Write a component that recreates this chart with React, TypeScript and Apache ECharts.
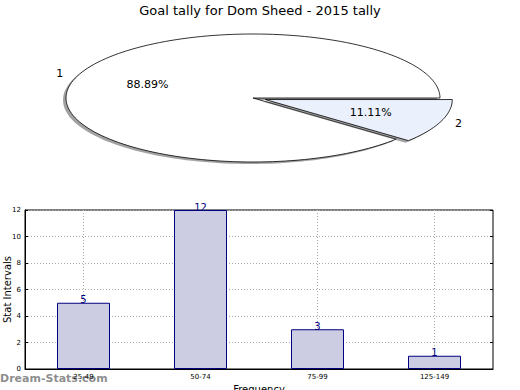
import React, { useEffect, useRef } from "react";
import * as echarts from "echarts";

const TITLE = "Goal tally for Dom Sheed - 2015 tally";
const SLICE_NAMES = ["1", "2"];
const SLICE_VALUES = [8, 1];
const SLICE_COLORS = ["#ffffff", "#eaf0fc"];
const SLICE_EXPLODE = [0, 0.07];

const CATEGORIES = ["25-49", "50-74", "75-99", "125-149"];
const BAR_VALUES = [5, 12, 3, 1];

const FONT = "DejaVu Sans";

export default function App() {
  const ref = useRef<HTMLDivElement>(null);
  useEffect(() => {
    if (!ref.current) return;
    const chart = echarts.init(ref.current, undefined, { renderer: "svg" });
    const total = SLICE_VALUES.reduce((a, b) => a + b, 0);
    const cx = 253, cy = 98, rx = 187, ry = 64;

    const renderSlice = (params: any, api: any) => {
      const i = params.dataIndex;
      const v = api.value(0);
      let before = 0;
      for (let k = 0; k < i; k++) before += SLICE_VALUES[k];
      const a0 = (before / total) * 360;
      const a1 = ((before + v) / total) * 360;
      const mid = ((a0 + a1) / 2) * Math.PI / 180;
      const ex = SLICE_EXPLODE[i];
      const ox = cx + ex * rx * Math.cos(mid);
      const oy = cy - ex * ry * Math.sin(mid);
      const pts: number[][] = [[ox, oy]];
      const steps = Math.max(8, Math.ceil((a1 - a0) / 2));
      for (let s = 0; s <= steps; s++) {
        const a = (a0 + ((a1 - a0) * s) / steps) * Math.PI / 180;
        pts.push([ox + rx * Math.cos(a), oy - ry * Math.sin(a)]);
      }
      const shadowPts = pts.map((p) => [p[0] - 3, p[1] + 2]);
      const pct = ((v / total) * 100).toFixed(2) + "%";
      return {
        type: "group",
        children: [
          {
            type: "polygon",
            shape: { points: shadowPts },
            style: { fill: "rgba(70,70,70,0.5)", stroke: "none" },
          },
          {
            type: "polygon",
            shape: { points: pts },
            style: { fill: SLICE_COLORS[i], stroke: "#000", lineWidth: 0.8 },
          },
          {
            type: "text",
            x: ox + 0.6 * rx * Math.cos(mid),
            y: oy - 0.6 * ry * Math.sin(mid),
            style: {
              text: pct,
              fill: "#000",
              font: `11px '${FONT}'`,
              align: "center",
              verticalAlign: "middle",
            },
          },
          {
            type: "text",
            x: ox + 1.1 * rx * Math.cos(mid),
            y: oy - 1.1 * ry * Math.sin(mid),
            style: {
              text: SLICE_NAMES[i],
              fill: "#000",
              font: `11px '${FONT}'`,
              align: "center",
              verticalAlign: "middle",
            },
          },
        ],
      };
    };

    chart.setOption({
      animation: false,
      backgroundColor: "#fff",
      textStyle: { fontFamily: FONT },
      title: {
        text: TITLE,
        left: "center",
        top: -1,
        textStyle: { fontFamily: FONT, fontSize: 13, fontWeight: "normal", color: "#000" },
      },
      grid: {
        left: 25,
        right: 27,
        top: 210,
        bottom: 21,
        containLabel: false,
        outerBoundsMode: "none",
        show: true,
        borderColor: "#000",
        borderWidth: 1,
        backgroundColor: "transparent",
      } as any,
      xAxis: {
        type: "category",
        data: CATEGORIES,
        name: "Frequency",
        nameLocation: "middle",
        nameGap: 15,
        nameMoveOverlap: false,
        nameTextStyle: { fontFamily: FONT, fontSize: 10, color: "#000" },
        axisLine: { lineStyle: { color: "#000" } },
        axisTick: { inside: true, alignWithLabel: true, length: 3, lineStyle: { color: "#000" } },
        axisLabel: { fontFamily: FONT, fontSize: 7, color: "#000", margin: 4 },
        splitLine: {
          show: true,
          alignWithLabel: true,
          lineStyle: { type: [1, 2], color: "#aaa", width: 1 },
        },
      } as any,
      yAxis: [
        {
          type: "value",
          min: 0,
          max: 12,
          interval: 2,
          name: "Stat Intervals",
          nameLocation: "middle",
          nameGap: 13,
          nameMoveOverlap: false,
          nameTextStyle: { fontFamily: FONT, fontSize: 10, color: "#000" },
          axisLine: { show: true, lineStyle: { color: "#000" } },
          axisTick: { show: true, inside: true, length: 3, lineStyle: { color: "#000" } },
          axisLabel: { fontFamily: FONT, fontSize: 7, color: "#000", margin: 4 },
          splitLine: { show: true, lineStyle: { type: [1, 2], color: "#aaa", width: 1 } },
        } as any,
        {
          type: "value",
          min: 0,
          max: 12,
          interval: 2,
          position: "right",
          axisLine: { show: false },
          axisTick: { show: true, inside: true, length: 3, lineStyle: { color: "#000" } },
          axisLabel: { show: false },
          splitLine: { show: false },
        },
      ],
      series: [
        {
          type: "bar",
          data: BAR_VALUES,
          barWidth: 53,
          itemStyle: { color: "#ccccE2", borderColor: "#000080", borderWidth: 1 },
          label: {
            show: true,
            position: "top",
            distance: -2,
            fontFamily: FONT,
            fontSize: 10,
            color: "#000080",
          },
        },
        {
          type: "custom",
          coordinateSystem: "none",
          data: SLICE_VALUES.map((v) => [v]),
          renderItem: renderSlice,
          silent: true,
        },
      ],
      graphic: [
        {
          type: "text",
          left: 0,
          top: 373,
          style: {
            text: "Dream-Stats.com",
            font: `bold 11px '${FONT}'`,
            fill: "rgba(120,120,120,0.85)",
          },
        },
      ],
    });
    return () => chart.dispose();
  }, []);
  return (
    <div
      ref={ref}
      style={{ position: "fixed", left: 0, top: 0, width: 520, height: 390 }}
    />
  );
}
